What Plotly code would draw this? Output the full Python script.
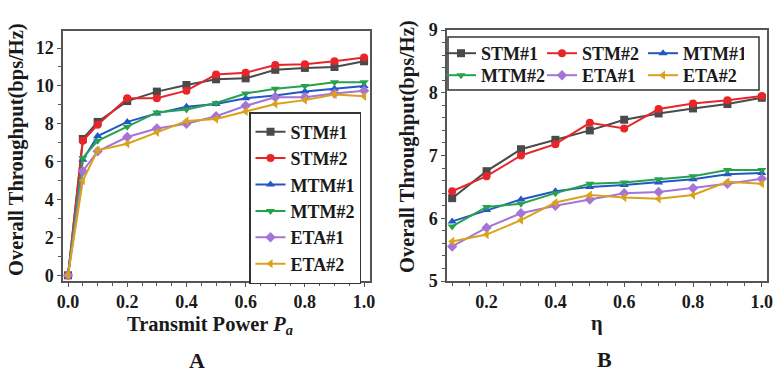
import plotly.graph_objects as go

# ---------------- data ----------------
series_names = ["STM#1", "STM#2", "MTM#1", "MTM#2", "ETA#1", "ETA#2"]

pa = [0.0, 0.05, 0.1, 0.2, 0.3, 0.4, 0.5, 0.6, 0.7, 0.8, 0.9, 1.0]
a_stm1 = [0, 7.2, 8.1, 9.2, 9.7, 10.05, 10.35, 10.4, 10.85, 10.95, 11.0, 11.3]
a_stm2 = [0, 7.1, 7.95, 9.35, 9.35, 9.75, 10.6, 10.7, 11.1, 11.15, 11.3, 11.5]
a_mtm1 = [0, 6.1, 7.35, 8.1, 8.55, 8.9, 9.05, 9.35, 9.5, 9.7, 9.85, 10.0]
a_mtm2 = [0, 6.2, 7.1, 7.85, 8.6, 8.75, 9.1, 9.6, 9.85, 10.0, 10.2, 10.2]
a_eta1 = [0, 5.5, 6.55, 7.3, 7.75, 8.0, 8.4, 8.95, 9.4, 9.4, 9.6, 9.75]
a_eta2 = [0, 5.0, 6.6, 6.95, 7.55, 8.15, 8.25, 8.65, 9.05, 9.25, 9.55, 9.45]

eta = [0.1, 0.2, 0.3, 0.4, 0.5, 0.6, 0.7, 0.8, 0.9, 1.0]
b_stm1 = [6.32, 6.75, 7.1, 7.25, 7.4, 7.57, 7.67, 7.75, 7.82, 7.92]
b_stm2 = [6.43, 6.67, 7.0, 7.18, 7.52, 7.43, 7.74, 7.83, 7.88, 7.95]
b_mtm1 = [5.95, 6.13, 6.3, 6.43, 6.5, 6.53, 6.57, 6.62, 6.7, 6.72]
b_mtm2 = [5.87, 6.18, 6.23, 6.4, 6.55, 6.57, 6.62, 6.67, 6.77, 6.77]
b_eta1 = [5.55, 5.85, 6.08, 6.2, 6.3, 6.4, 6.42, 6.48, 6.55, 6.63]
b_eta2 = [5.63, 5.74, 5.97, 6.25, 6.37, 6.33, 6.31, 6.37, 6.58, 6.55]

a_series = [a_stm1, a_stm2, a_mtm1, a_mtm2, a_eta1, a_eta2]
b_series = [b_stm1, b_stm2, b_mtm1, b_mtm2, b_eta1, b_eta2]

a_xticks = [0, 0.2, 0.4, 0.6, 0.8, 1.0]
a_yticks = [0, 2, 4, 6, 8, 10, 12]
b_xticks = [0.2, 0.4, 0.6, 0.8, 1.0]
b_yticks = [5, 6, 7, 8, 9]

colors = ["#4a4a4a", "#e8262a", "#2457c5", "#27a24c", "#a574d8", "#d9a21a"]
symbols = ["square", "circle", "triangle-up", "triangle-down", "diamond", "triangle-left"]
b_legend_rows = ["legend2", "legend2", "legend2", "legend3", "legend3", "legend3"]

FONT = "Liberation Serif"
TXT = "#1a1a1a"

fig = go.Figure()

for name, ys, c, s in zip(series_names, a_series, colors, symbols):
    fig.add_trace(go.Scatter(
        x=pa, y=ys, name="<b>%s</b>" % name, mode="lines+markers",
        line=dict(color=c, width=2), marker=dict(symbol=s, size=8, color=c),
        xaxis="x", yaxis="y", legend="legend"))

for name, ys, c, s, lg in zip(series_names, b_series, colors, symbols, b_legend_rows):
    fig.add_trace(go.Scatter(
        x=eta, y=ys, name="<b>%s</b>" % name, mode="lines+markers",
        line=dict(color=c, width=2), marker=dict(symbol=s, size=8, color=c),
        xaxis="x2", yaxis="y2", legend=lg))

W, H = 775, 374
def px(x): return x / W
def py(y): return 1 - y / H

axis_common = dict(
    showline=True, linecolor="#555555", linewidth=1.5, mirror=True,
    ticks="outside", ticklen=4, tickwidth=1.2, tickcolor="#555555",
    showgrid=False, zeroline=False,
    tickfont=dict(family=FONT, size=18, color=TXT),
    minor=dict(ticks="outside", ticklen=3, tickcolor="#555555"),
)

def bold_ticks(vals, fmt):
    return ["<b>" + fmt.format(v) + "</b>" for v in vals]

legend_font = dict(family=FONT, size=18, color=TXT)

fig.update_layout(
    width=W, height=H,
    margin=dict(l=0, r=0, t=0, b=0, autoexpand=False),
    paper_bgcolor="white", plot_bgcolor="white",
    showlegend=True,
    xaxis=dict(domain=[px(63), px(370)], range=[-0.017, 1.02],
               tickvals=a_xticks, ticktext=bold_ticks(a_xticks, "{:.1f}"),
               anchor="y", **axis_common),
    yaxis=dict(domain=[py(281), py(31)], range=[-0.3, 12.9],
               tickvals=a_yticks, ticktext=bold_ticks(a_yticks, "{:d}"),
               anchor="x", **axis_common),
    xaxis2=dict(domain=[px(447), px(767)], range=[0.085, 1.015],
                tickvals=b_xticks, ticktext=bold_ticks(b_xticks, "{:.1f}"),
                anchor="y2", **axis_common),
    yaxis2=dict(domain=[py(281), py(30)], range=[5, 9],
                tickvals=b_yticks, ticktext=bold_ticks(b_yticks, "{:d}"),
                anchor="x2", **axis_common),
    legend=dict(
        x=px(249), y=py(112), xanchor="left", yanchor="top",
        bgcolor="white", bordercolor="#333333", borderwidth=1.5,
        font=legend_font, tracegroupgap=0,
    ),
    legend2=dict(
        x=px(441), y=py(35), xanchor="left", yanchor="top",
        orientation="h", bgcolor="rgba(0,0,0,0)", borderwidth=0,
        entrywidth=56, entrywidthmode="pixels",
        font=legend_font,
    ),
    legend3=dict(
        x=px(441), y=py(57), xanchor="left", yanchor="top",
        orientation="h", bgcolor="rgba(0,0,0,0)", borderwidth=0,
        entrywidth=56, entrywidthmode="pixels",
        font=legend_font,
    ),
    shapes=[dict(type="rect", xref="paper", yref="paper",
                 x0=px(448), x1=px(759), y0=py(90), y1=py(37),
                 line=dict(color="#333333", width=1.5), fillcolor="rgba(0,0,0,0)", layer="above")],
)

title_font = dict(family=FONT, size=20.5, color=TXT)
letter_font = dict(family=FONT, size=22, color=TXT)

def ann(text, x, y, font, angle=0):
    return dict(text=text, x=px(x), y=py(y), textangle=angle, showarrow=False,
                xref="paper", yref="paper", xanchor="center", yanchor="middle", font=font)

fig.update_layout(annotations=[
    ann("<b>Overall Throughput(bps/Hz)</b>", 16, 150, title_font, -90),
    ann("<b>Overall Throughput(bps/Hz)</b>", 407, 147, title_font, -90),
    ann("<b>Transmit Power <i>P</i><sub><i>a</i></sub></b>", 210, 325, title_font),
    ann("<b>η</b>", 597, 323, title_font),
    ann("<b>A</b>", 197, 360, letter_font),
    ann("<b>B</b>", 604, 359, letter_font),
])

fig.write_html("out.html")
